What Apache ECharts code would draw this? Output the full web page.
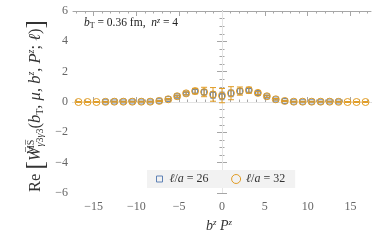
<!DOCTYPE html>
<html><head><meta charset="utf-8">
<script src="https://cdn.jsdelivr.net/npm/echarts@6/dist/echarts.min.js"></script>
<style>html,body{margin:0;padding:0;background:#fff}#c{width:382px;height:243px}</style>
</head><body><div id="c"></div>
<script>
// b^z P^z positions (z * 2*pi*4/24)
const bzPz = [-16.76,-15.71,-14.66,-13.61,-12.57,-11.52,-10.47,-9.42,-8.38,-7.33,-6.28,-5.24,-4.19,-3.14,-2.09,-1.05,0,1.05,2.09,3.14,4.19,5.24,6.28,7.33,8.38,9.42,10.47,11.52,12.57,13.61,14.66,15.71,16.76];
// l/a = 32 (orange circles)
const val32 = [0.00,0.00,0.00,0.01,0.02,0.02,0.02,0.02,0.02,0.07,0.18,0.38,0.57,0.72,0.66,0.50,0.42,0.58,0.72,0.78,0.60,0.38,0.18,0.07,0.02,0.02,0.02,0.02,0.02,0.01,0.00,0.00,0.00];
const err32 = [0.03,0.03,0.03,0.03,0.03,0.03,0.03,0.03,0.03,0.04,0.05,0.07,0.10,0.18,0.31,0.45,0.47,0.43,0.27,0.20,0.10,0.07,0.05,0.04,0.03,0.03,0.03,0.03,0.03,0.03,0.03,0.03,0.03];
// l/a = 26 (blue squares), z = -13 .. 13
const bzPz26 = [-13.61,-12.57,-11.52,-10.47,-9.42,-8.38,-7.33,-6.28,-5.24,-4.19,-3.14,-2.09,-1.05,0,1.05,2.09,3.14,4.19,5.24,6.28,7.33,8.38,9.42,10.47,11.52,12.57,13.61];
const val26 = [0.02,0.03,0.03,0.03,0.03,0.03,0.08,0.19,0.38,0.56,0.71,0.64,0.47,0.40,0.57,0.71,0.77,0.59,0.37,0.17,0.06,0.02,0.02,0.02,0.02,0.03,0.03];
const err26 = [0.02,0.02,0.02,0.02,0.02,0.02,0.03,0.04,0.06,0.08,0.12,0.18,0.22,0.25,0.22,0.18,0.12,0.08,0.06,0.04,0.03,0.02,0.02,0.02,0.02,0.02,0.02];
const xMajor = [-15,-10,-5,0,5,10,15];
const xMinor = [-17,-16,-14,-13,-12,-11,-9,-8,-7,-6,-4,-3,-2,-1,1,2,3,4,6,7,8,9,11,12,13,14,16,17];
const names = ['26','32'];

const BLUE = '#5E81B5', ORANGE = '#E19C24', FRAME = '#a6a6a6';
const FONT = 'Liberation Serif';
const minus = v => String(v).replace('-', '\u2212');

function errRender(color, cap) {
  return function (params, api) {
    const x = api.value(0), y = api.value(1), e = api.value(2);
    const p1 = api.coord([x, y - e]), p2 = api.coord([x, y + e]);
    const st = {stroke: color, lineWidth: 1};
    return {type: 'group', children: [
      {type: 'line', shape: {x1: p1[0], y1: p1[1], x2: p2[0], y2: p2[1]}, style: st},
      {type: 'line', shape: {x1: p1[0] - cap, y1: p1[1], x2: p1[0] + cap, y2: p1[1]}, style: st},
      {type: 'line', shape: {x1: p2[0] - cap, y1: p2[1], x2: p2[0] + cap, y2: p2[1]}, style: st}
    ]};
  };
}

const xBase = {type: 'value', min: -17.4, max: 17.4, splitLine: {show: false}};
const yBase = {type: 'value', min: -6, max: 6, interval: 2, splitLine: {show: false}};
const lineSt = {show: true, lineStyle: {color: FRAME, width: 1}};

const chart = echarts.init(document.getElementById('c'), null, {renderer: 'canvas'});
chart.setOption({
  animation: false,
  grid: {left: 73, right: 11, top: 11, bottom: 50},
  xAxis: [
    Object.assign({}, xBase, {position: 'bottom', axisLine: lineSt,
      axisTick: {show: true, inside: true, length: 5, customValues: xMajor, lineStyle: {color: FRAME}},
      axisLabel: {show: true, customValues: xMajor, formatter: minus, color: '#666', fontFamily: FONT, fontSize: 12, margin: 8}}),
    Object.assign({}, xBase, {position: 'bottom', axisLine: {show: false},
      axisTick: {show: true, inside: true, length: 2.5, customValues: xMinor, lineStyle: {color: FRAME}},
      axisLabel: {show: false}}),
    Object.assign({}, xBase, {position: 'top', axisLine: lineSt,
      axisTick: {show: true, inside: true, length: 5, customValues: xMajor, lineStyle: {color: FRAME}},
      axisLabel: {show: false}}),
    Object.assign({}, xBase, {position: 'top', axisLine: {show: false},
      axisTick: {show: true, inside: true, length: 2.5, customValues: xMinor, lineStyle: {color: FRAME}},
      axisLabel: {show: false}})
  ],
  yAxis: [
    Object.assign({}, yBase, {position: 'left', axisLine: lineSt,
      axisTick: {show: true, inside: true, length: 5, lineStyle: {color: FRAME}},
      minorTick: {show: true, splitNumber: 4, length: 2.5, lineStyle: {color: FRAME}},
      axisLabel: {show: true, formatter: minus, color: '#666', fontFamily: FONT, fontSize: 12, margin: 5}}),
    Object.assign({}, yBase, {position: 'right', axisLine: lineSt,
      axisTick: {show: true, inside: true, length: 5, lineStyle: {color: FRAME}},
      minorTick: {show: true, splitNumber: 4, length: 2.5, lineStyle: {color: FRAME}},
      axisLabel: {show: false}})
  ],
  legend: {
    left: 147, top: 170, width: 152,
    padding: [3, 10, 3, 7], itemGap: 22, itemWidth: 10, itemHeight: 10,
    backgroundColor: '#f2f2f2', borderWidth: 0,
    data: [
      {name: '26', icon: 'path://M0,0M10,10M2,2h6v6h-6z', itemStyle: {color: 'rgba(0,0,0,0)', borderColor: BLUE, borderWidth: 1}},
      {name: '32', icon: 'path://M0,0M10,10M0.5,5a4.5,4.5 0 1,0 9,0a4.5,4.5 0 1,0 -9,0z', itemStyle: {color: 'rgba(0,0,0,0)', borderColor: ORANGE, borderWidth: 1}}
    ],
    formatter: n => '{i|\u2113}{t|/}{i|a}{t| = ' + n + '}',
    textStyle: {fontFamily: FONT, fontSize: 12, color: '#333',
      rich: {i: {fontStyle: 'italic', fontFamily: FONT, fontSize: 12, color: '#333'}, t: {fontFamily: FONT, fontSize: 12, color: '#333'}}}
  },
  series: [
    {type: 'custom', name: 'err26', z: 2, xAxisIndex: 0, yAxisIndex: 0, renderItem: errRender(BLUE, 2.5),
      data: bzPz26.map((x, i) => [x, val26[i], err26[i]]),
      markLine: {silent: true, symbol: 'none', label: {show: false}, z: 1,
        lineStyle: {color: '#e4e4e4', type: 'solid', width: 1}, data: [{xAxis: 0}, {yAxis: 0}]}},
    {type: 'scatter', name: names[0], z: 3, symbol: 'rect', symbolSize: 5,
      itemStyle: {color: 'rgba(0,0,0,0)', borderColor: BLUE, borderWidth: 1, opacity: 1},
      data: bzPz26.map((x, i) => [x, val26[i]])},
    {type: 'custom', name: 'err32', z: 4, xAxisIndex: 0, yAxisIndex: 0, renderItem: errRender(ORANGE, 3),
      data: bzPz.map((x, i) => [x, val32[i], err32[i]])},
    {type: 'scatter', name: names[1], z: 5, symbol: 'circle', symbolSize: 7,
      itemStyle: {color: 'rgba(0,0,0,0)', borderColor: ORANGE, borderWidth: 1, opacity: 1},
      data: bzPz.map((x, i) => [x, val32[i]])}
  ],
  graphic: [
    {type: 'text', x: 84, y: 23, style: {
      text: '{it|b}{sub|T}{t| = 0.36 fm,  }{it|n}{sup|z}{t| = 4}',
      textVerticalAlign: 'middle', textAlign: 'left',
      rich: {
        t: {fontFamily: FONT, fontSize: 11.5, fill: '#222'},
        it: {fontFamily: FONT, fontStyle: 'italic', fontSize: 11.5, fill: '#222'},
        sub: {fontFamily: FONT, fontSize: 8, fill: '#222', padding: [5, 0, 0, 0]},
        sup: {fontFamily: FONT, fontStyle: 'italic', fontSize: 8, fill: '#222', padding: [0, 0, 5, 0]}
      }}},
    {type: 'text', x: 219, y: 226, style: {
      text: '{it|b}{sup|z}{it| P}{sup|z}',
      textVerticalAlign: 'middle', textAlign: 'center',
      rich: {
        it: {fontFamily: FONT, fontStyle: 'italic', fontSize: 14, fill: '#333'},
        sup: {fontFamily: FONT, fontStyle: 'italic', fontSize: 9, fill: '#333', padding: [0, 0, 7, 0]}
      }}},
    {type: 'text', x: 36, y: 106, rotation: Math.PI / 2, style: {
      text: '{t|Re }{br|[}{it|W}{supw|M\u0305S\u0305}{subi|\u03B3}{sub|3}{subi|\u03B3}{sub|3}{t|(}{it|b}{sub|T}{t|, }{it|\u03BC}{t|, }{it|b}{sup|z}{t|, }{it|P}{sup|z}{t|; }{it|\u2113}{t|)}{br|]}',
      textVerticalAlign: 'middle', textAlign: 'center',
      rich: {
        t: {fontFamily: FONT, fontSize: 16.5, fill: '#333'},
        br: {fontFamily: FONT, fontSize: 25, fill: '#333'},
        it: {fontFamily: FONT, fontStyle: 'italic', fontSize: 16.5, fill: '#333'},
        supw: {fontFamily: FONT, fontSize: 10, fill: '#333', padding: [0, 0, 10, 0], width: 1},
        sup: {fontFamily: FONT, fontStyle: 'italic', fontSize: 10, fill: '#333', padding: [0, 0, 10, 0]},
        sub: {fontFamily: FONT, fontSize: 10, fill: '#333', padding: [9, 0, 0, 0]},
        subi: {fontFamily: FONT, fontStyle: 'italic', fontSize: 10, fill: '#333', padding: [9, 0, 0, 0]}
      }}}
  ]
});
</script></body></html>
